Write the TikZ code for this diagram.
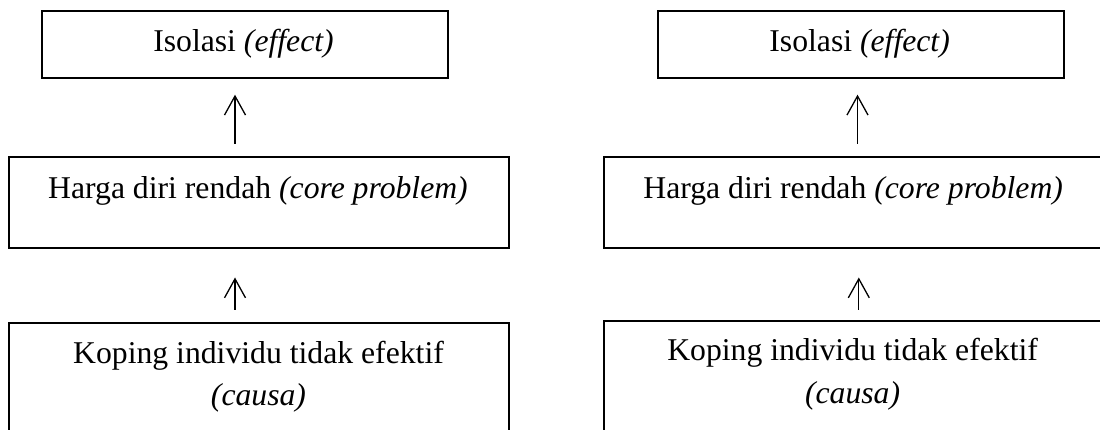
\documentclass[tikz,border=0pt]{standalone}
\usepackage{fontspec}
\setmainfont{Liberation Serif}
\usetikzlibrary{arrows.meta}
\begin{document}
\begin{tikzpicture}[x=1pt,y=-1pt,
  box/.style={draw=black, line width=2pt, rectangle, anchor=north west, inner sep=0pt},
  txt/.style={anchor=base, inner sep=0pt, font=\fontsize{31.7}{38}\selectfont},
  uparrow/.style={line width=1.3pt, -{Straight Barb[length=19pt,width=21pt]}}]
\useasboundingbox (0,0) rectangle (1100,430);
\clip (0,0) rectangle (1100,430);
% left diagram
\node[box, minimum width=406pt, minimum height=67pt] (L1) at (40.7,10) {};
\node[box, minimum width=500pt, minimum height=91pt] (L2) at (8,156) {};
\node[box, minimum width=500pt, minimum height=140pt] (L3) at (8,322.3) {};
\node[txt] (L1t) at (243.5,51.7) {Isolasi \textit{(effect)}};
\node[txt] (L2t) at (258,198.3) {Harga diri rendah \textit{(core problem)}};
\node[txt] (L3t) at (258.5,363.3) {Koping individu tidak efektif};
\node[txt] (L3c) at (258.5,405.5) {\textit{(causa)}};
\coordinate (La1s) at (235,144);
\coordinate (La1e) at (235,94.7);
\coordinate (La2s) at (235,309.8);
\coordinate (La2e) at (235,277.5);
\draw[uparrow] (La1s) -- (La1e);
\draw[uparrow] (La2s) -- (La2e);
% right diagram
\node[box, minimum width=406pt, minimum height=67pt] (R1) at (656.7,10) {};
\node[box, minimum width=500pt, minimum height=91pt] (R2) at (603.3,156) {};
\node[box, minimum width=500pt, minimum height=140pt] (R3) at (603.3,319.5) {};
\node[txt] (R1t) at (859.6,51.7) {Isolasi \textit{(effect)}};
\node[txt] (R2t) at (853.2,198.3) {Harga diri rendah \textit{(core problem)}};
\node[txt] (R3t) at (852.6,360.5) {Koping individu tidak efektif};
\node[txt] (R3c) at (852.6,403) {\textit{(causa)}};
\coordinate (Ra1s) at (857.5,144);
\coordinate (Ra1e) at (857.5,94.7);
\coordinate (Ra2s) at (858.8,309.8);
\coordinate (Ra2e) at (858.8,277.5);
\draw[uparrow] (Ra1s) -- (Ra1e);
\draw[uparrow] (Ra2s) -- (Ra2e);
\end{tikzpicture}
\end{document}
